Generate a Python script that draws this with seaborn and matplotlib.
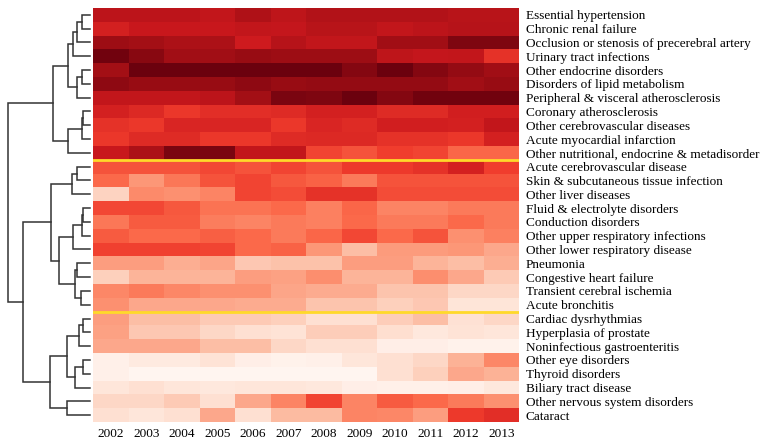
import numpy as np
import pandas as pd
import matplotlib
matplotlib.use('Agg')
import matplotlib.pyplot as plt
import seaborn as sns

plt.rcParams['font.family'] = ['Liberation Serif', 'DejaVu Serif']

years = [2002, 2003, 2004, 2005, 2006, 2007, 2008, 2009, 2010, 2011, 2012, 2013]

diseases = [
    'Essential hypertension',
    'Chronic renal failure',
    'Occlusion or stenosis of precerebral artery',
    'Urinary tract infections',
    'Other endocrine disorders',
    'Disorders of lipid metabolism',
    'Peripheral & visceral atherosclerosis',
    'Coronary atherosclerosis',
    'Other cerebrovascular diseases',
    'Acute myocardial infarction',
    'Other nutritional, endocrine & metadisorder',
    'Acute cerebrovascular disease',
    'Skin & subcutaneous tissue infection',
    'Other liver diseases',
    'Fluid & electrolyte disorders',
    'Conduction disorders',
    'Other upper respiratory infections',
    'Other lower respiratory disease',
    'Pneumonia',
    'Congestive heart failure',
    'Transient cerebral ischemia',
    'Acute bronchitis',
    'Cardiac dysrhythmias',
    'Hyperplasia of prostate',
    'Noninfectious gastroenteritis',
    'Other eye disorders',
    'Thyroid disorders',
    'Biliary tract disease',
    'Other nervous system disorders',
    'Cataract',
]

levels = [
    [0.80, 0.80, 0.80, 0.78, 0.84, 0.79, 0.83, 0.83, 0.83, 0.83, 0.81, 0.81],
    [0.72, 0.76, 0.76, 0.76, 0.78, 0.77, 0.81, 0.81, 0.78, 0.80, 0.82, 0.82],
    [0.89, 0.875, 0.85, 0.85, 0.74, 0.82, 0.78, 0.78, 0.88, 0.88, 0.95, 0.95],
    [0.98, 0.93, 0.88, 0.88, 0.90, 0.89, 0.89, 0.89, 0.79, 0.77, 0.78, 0.66],
    [0.875, 0.99, 0.99, 0.99, 0.99, 0.99, 0.99, 0.94, 0.99, 0.94, 0.91, 0.88],
    [0.92, 0.90, 0.90, 0.90, 0.92, 0.90, 0.91, 0.91, 0.91, 0.91, 0.88, 0.90],
    [0.78, 0.78, 0.78, 0.80, 0.875, 0.96, 0.95, 0.99, 0.94, 0.98, 0.98, 0.98],
    [0.72, 0.69, 0.64, 0.67, 0.67, 0.68, 0.72, 0.72, 0.68, 0.68, 0.73, 0.73],
    [0.66, 0.64, 0.70, 0.70, 0.70, 0.64, 0.70, 0.68, 0.73, 0.73, 0.72, 0.78],
    [0.64, 0.68, 0.68, 0.64, 0.64, 0.68, 0.69, 0.69, 0.66, 0.66, 0.64, 0.72],
    [0.76, 0.85, 0.96, 0.96, 0.78, 0.78, 0.60, 0.56, 0.62, 0.60, 0.51, 0.51],
    [0.56, 0.56, 0.56, 0.59, 0.56, 0.60, 0.56, 0.63, 0.63, 0.66, 0.72, 0.62],
    [0.50, 0.36, 0.46, 0.56, 0.60, 0.55, 0.52, 0.45, 0.56, 0.56, 0.56, 0.56],
    [0.17, 0.40, 0.38, 0.42, 0.60, 0.58, 0.66, 0.66, 0.58, 0.58, 0.58, 0.58],
    [0.59, 0.59, 0.55, 0.47, 0.47, 0.50, 0.43, 0.51, 0.42, 0.42, 0.45, 0.45],
    [0.46, 0.54, 0.54, 0.44, 0.42, 0.45, 0.43, 0.50, 0.45, 0.45, 0.50, 0.45],
    [0.54, 0.50, 0.50, 0.53, 0.50, 0.45, 0.51, 0.59, 0.50, 0.56, 0.38, 0.43],
    [0.61, 0.61, 0.61, 0.60, 0.50, 0.52, 0.36, 0.24, 0.35, 0.35, 0.36, 0.31],
    [0.34, 0.34, 0.29, 0.32, 0.21, 0.23, 0.23, 0.34, 0.34, 0.27, 0.24, 0.29],
    [0.18, 0.27, 0.27, 0.27, 0.34, 0.33, 0.39, 0.27, 0.27, 0.39, 0.31, 0.20],
    [0.41, 0.45, 0.41, 0.38, 0.38, 0.32, 0.30, 0.30, 0.22, 0.22, 0.16, 0.16],
    [0.38, 0.31, 0.31, 0.31, 0.30, 0.30, 0.22, 0.22, 0.18, 0.21, 0.10, 0.10],
    [0.34, 0.24, 0.24, 0.20, 0.20, 0.18, 0.125, 0.125, 0.19, 0.24, 0.12, 0.16],
    [0.33, 0.21, 0.21, 0.16, 0.125, 0.11, 0.19, 0.19, 0.13, 0.08, 0.11, 0.09],
    [0.31, 0.31, 0.31, 0.24, 0.24, 0.16, 0.125, 0.125, 0.04, 0.04, 0.02, 0.02],
    [0.03, 0.07, 0.07, 0.11, 0.04, 0.02, 0.03, 0.09, 0.125, 0.16, 0.28, 0.41],
    [0.03, 0.00, 0.00, 0.00, 0.00, 0.00, 0.00, 0.00, 0.125, 0.18, 0.31, 0.28],
    [0.09, 0.125, 0.09, 0.08, 0.09, 0.09, 0.08, 0.04, 0.03, 0.03, 0.04, 0.08],
    [0.16, 0.16, 0.20, 0.125, 0.31, 0.42, 0.60, 0.42, 0.54, 0.50, 0.45, 0.38],
    [0.125, 0.09, 0.125, 0.31, 0.125, 0.25, 0.25, 0.42, 0.41, 0.34, 0.63, 0.67],
]

# row clustering: (merge height, left, right), leaves are row numbers
tree = (82,
        (37,
         (22,
          (17, (13, (8, 0, 1), 2), 3),
          (13, (8, 4, 5), 6)),
         (22, (8, (7, 7, 8), 9), 10)),
        (67,
         (39,
          (18, (13, 11, 12), 13),
          (31,
           (17, (8, (7, 14, 15), 16), 17),
           (15, (13, 18, 19), (9, 20, 21)))),
         (40,
          (23,
           (11, (7, 22, 23), 24),
           (15, (7, 25, 26), 27)),
          (23, 28, 29))))

# cluster borders (after these rows)
cuts = [11, 22]


def draw_tree(ax, node):
    if isinstance(node, int):
        return node + 0.5, 0
    h, left, right = node
    y1, h1 = draw_tree(ax, left)
    y2, h2 = draw_tree(ax, right)
    ax.plot([h1, h, h, h2], [y1, y1, y2, y2], color='#333333', lw=1.1,
            solid_joinstyle='miter')
    return (y1 + y2) / 2, h


df = pd.DataFrame(levels, index=diseases, columns=years)

fig = plt.figure(figsize=(7.72, 4.44), dpi=100)
ax = fig.add_axes([93 / 772, 22 / 444, 426 / 772, 414 / 444])
sns.heatmap(df, ax=ax, cmap='Reds', vmin=0, vmax=1, cbar=False,
            xticklabels=True, yticklabels=True)
for c in cuts:
    ax.axhline(c, color='#ffd92a', lw=2)

ax.yaxis.tick_right()
ax.tick_params(axis='y', length=0, pad=5, labelsize=9.5, labelrotation=0)
ax.tick_params(axis='x', length=0, pad=4, labelsize=9.5, labelrotation=0)
ax.set_xlabel('')
ax.set_ylabel('')

dax = fig.add_axes([0, 22 / 444, 93 / 772, 414 / 444])
draw_tree(dax, tree)
dax.set_xlim(90, -3)
dax.set_ylim(len(diseases), 0)
dax.axis('off')

fig.savefig('out.png', dpi=100)
